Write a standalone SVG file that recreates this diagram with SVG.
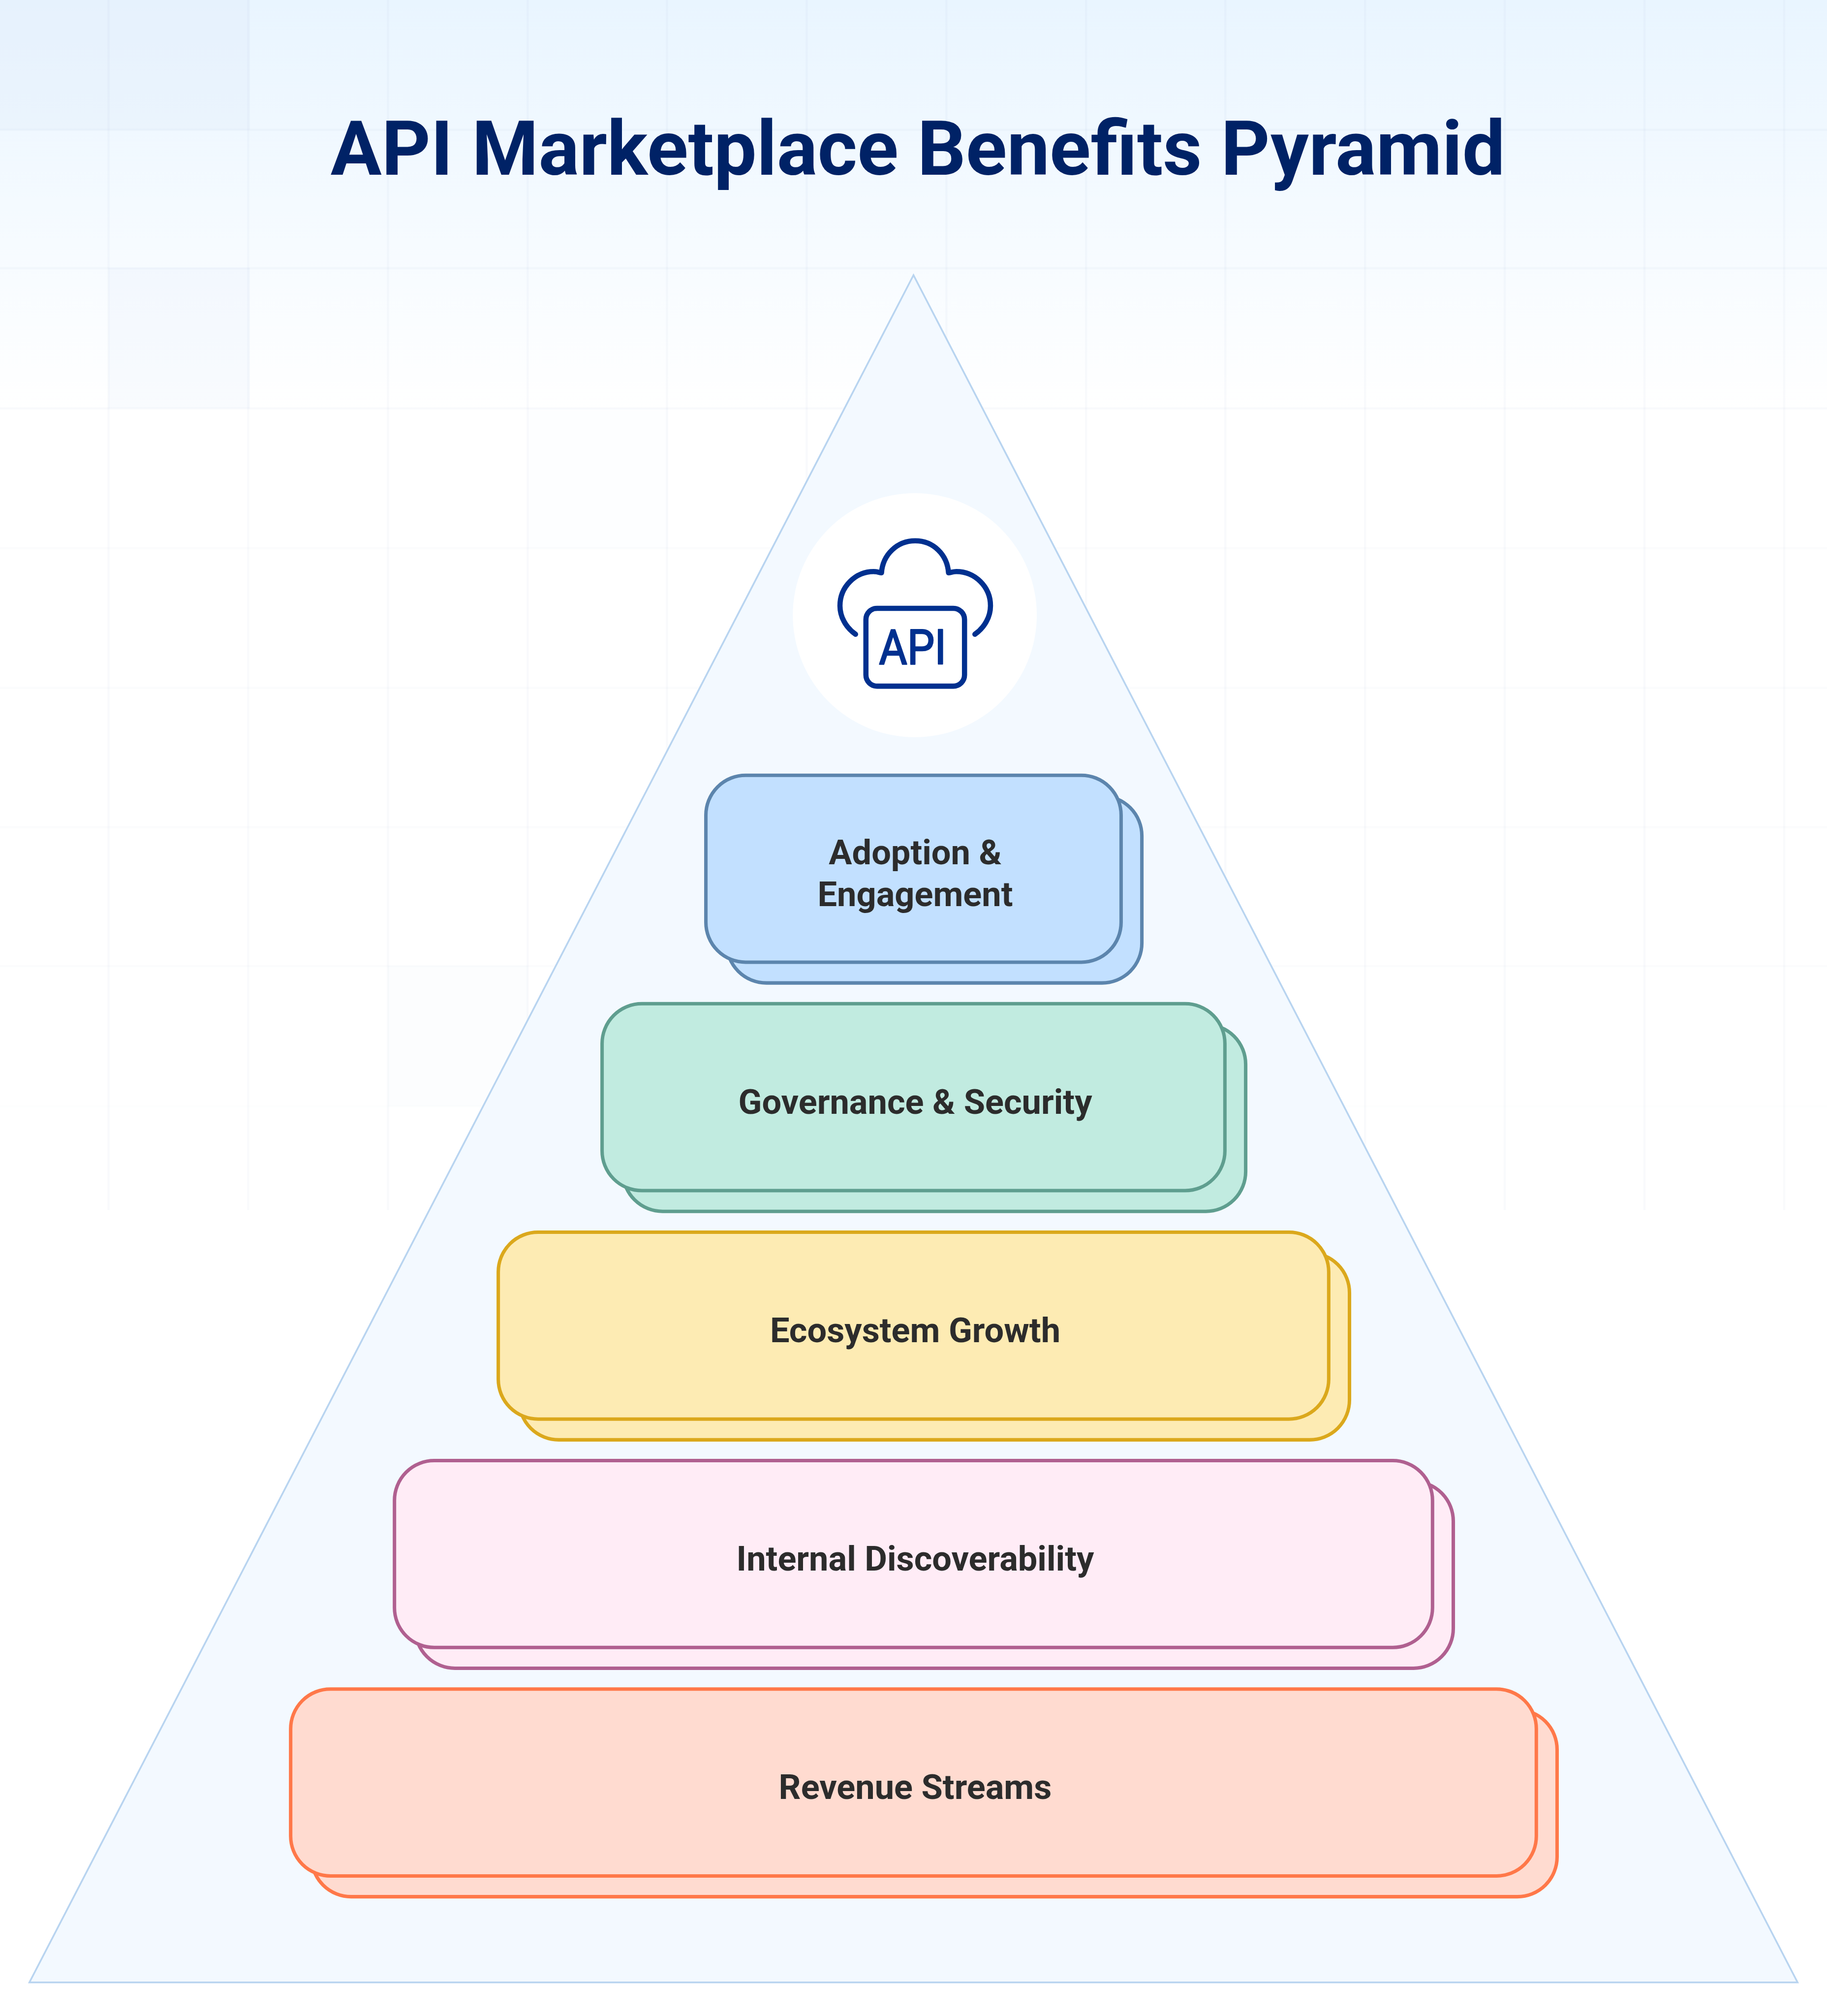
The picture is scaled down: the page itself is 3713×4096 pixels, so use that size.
<svg xmlns="http://www.w3.org/2000/svg" width="3713" height="4096" viewBox="0 0 3713 4096">
<style>
text{font-family:Roboto,"Liberation Sans",sans-serif;font-weight:700;text-anchor:middle}
.lb{font-size:80px;fill:#2c2c2c;stroke:none}
.gl{stroke:#8aa0c0;stroke-width:5;fill:none}
.b{stroke-width:8}
.ic{fill:none;stroke:#00308f;stroke-width:12;stroke-linecap:round;stroke-linejoin:round}
</style>
<defs>
<linearGradient id="bg" x1="0" y1="0" x2="0" y2="1"><stop offset="0" stop-color="#e9f5ff"/><stop offset="1" stop-color="#ffffff"/></linearGradient>
</defs>
<g transform="scale(0.87902)">
<rect id="background" width="4224" height="4660" fill="#fff"/>
<rect width="4224" height="950" fill="url(#bg)"/>
<g id="tints" fill="#dde8f8">
<rect x="0" y="0" width="578" height="300" opacity=".28"/>
<rect x="251" y="619" width="327" height="325" opacity=".18"/>
<rect x="1220" y="944" width="325" height="323" opacity=".06"/>
<rect x="897" y="2233" width="323" height="324" opacity=".08"/>
</g>
<path id="grid-v" class="gl" stroke-opacity=".05" d="M251 0V2797M574 0V2797M897 0V2797M1220 0V2797M1542 0V2797M1865 0V2797M2188 0V2797M2511 0V2797M2833 0V2797M3156 0V2797M3479 0V2797M3802 0V2797M4125 0V2797"/>
<path id="grid-h1" class="gl" stroke-opacity=".05" d="M0 300H4224M0 620H4224M0 944H4224"/>
<path id="grid-h2" class="gl" stroke-opacity=".03" d="M0 1267H4224M0 1590H4224M0 1912H4224M0 2233H4224"/>
<path id="grid-h3" class="gl" stroke-opacity=".015" d="M0 2557H4224"/>
<text id="title" x="2122" y="404" font-size="176" fill="#002266">API Marketplace Benefits Pyramid</text>
<polygon id="pyramid" points="2112,636 4156,4582 68,4582" fill="#f3f9ff" stroke="#b8d4f0" stroke-width="4"/>
<g id="logo">
<circle cx="2115" cy="1422" r="282" fill="#fff"/>
<path class="ic" d="M1978 1466C1955 1450 1942 1425 1942 1400C1942 1356 1978 1321 2020 1321C2026 1321 2032 1323 2038 1324C2041 1282 2074 1250 2116 1250C2158 1250 2190 1282 2193 1324C2199 1323 2205 1321 2211 1321C2254 1321 2290 1356 2290 1400C2290 1425 2277 1450 2254 1466"/>
<rect class="ic" x="2002" y="1406" width="228" height="180" rx="26"/>
<text x="2110" y="1535" font-size="112" fill="#00308f" stroke="#00308f" stroke-width="3" stroke-linejoin="round" textLength="156" lengthAdjust="spacingAndGlyphs" style="font-weight:400">API</text>
</g>
<g id="node-adoption" fill="#c2e0ff" stroke="#5c85ad"><rect class="b" x="1680" y="1840" width="960" height="432" rx="92"/><rect class="b" x="1632" y="1792" width="960" height="432" rx="92"/><text class="lb" x="2116" y="1998">Adoption &amp;</text><text class="lb" x="2116" y="2094">Engagement</text></g>
<g id="node-governance" fill="#c1ebe0" stroke="#5f9e8f"><rect class="b" x="1440" y="2368" width="1440" height="432" rx="92"/><rect class="b" x="1392" y="2320" width="1440" height="432" rx="92"/><text class="lb" x="2116" y="2574">Governance &amp; Security</text></g>
<g id="node-ecosystem" fill="#fdebb3" stroke="#dba81c"><rect class="b" x="1200" y="2896" width="1920" height="432" rx="92"/><rect class="b" x="1152" y="2848" width="1920" height="432" rx="92"/><text class="lb" x="2116" y="3102">Ecosystem Growth</text></g>
<g id="node-internal" fill="#ffecf6" stroke="#b06090"><rect class="b" x="960" y="3424" width="2400" height="432" rx="92"/><rect class="b" x="912" y="3376" width="2400" height="432" rx="92"/><text class="lb" x="2116" y="3630">Internal Discoverability</text></g>
<g id="node-revenue" fill="#ffdbd0" stroke="#ff7849"><rect class="b" x="720" y="3952" width="2880" height="432" rx="92"/><rect class="b" x="672" y="3904" width="2880" height="432" rx="92"/><text class="lb" x="2116" y="4158">Revenue Streams</text></g>
</g>
</svg>
